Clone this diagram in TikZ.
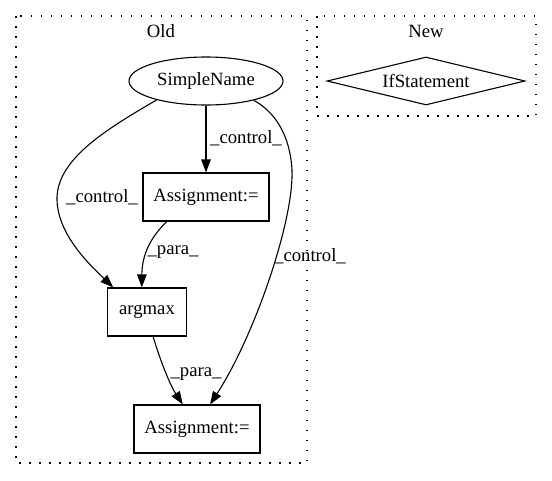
\documentclass[tikz,border=0pt]{standalone}
\usepackage{fontspec}
\setmainfont{Liberation Serif}
\usetikzlibrary{shapes.geometric,arrows.meta}
\begin{document}
\begin{tikzpicture}[x=1pt,y=-1pt,
  every node/.style={font=\fontsize{18.7pt}{22pt}\selectfont, inner sep=0pt},
  cluster/.style={draw, line width=1.2pt, dash pattern=on 1.5pt off 8.5pt},
  nodeline/.style={draw, line width=1.1pt},
  box/.style={nodeline, rectangle, minimum height=48pt},
  edge/.style={draw, line width=1.1pt, -{Triangle[length=13pt,width=9.5pt]}}
]
\useasboundingbox (0,0) rectangle (552,480);
% clusters
\draw[cluster] (16,16) rectangle (307,463);
\draw[cluster] (317,16) rectangle (536,116);
\node (old) at (161,31) {Old};
\node (new) at (426,31) {New};
% nodes
\node[nodeline, ellipse, minimum width=154pt, minimum height=48pt] (sn) at (206,81) {SimpleName};
\node[nodeline, diamond, aspect=4, minimum width=198pt, minimum height=48pt] (ifs) at (426,81) {IfStatement};
\node[box, minimum width=126pt] (asg1) at (206,197) {Assignment:=};
\node[box, minimum width=79pt] (argmax) at (147,312) {argmax};
\node[box, minimum width=126pt] (asg2) at (197,429) {Assignment:=};
% edges
\draw[edge] (sn) -- (asg1);
\draw[edge] (sn.201) .. controls (105,130) and (56,160) .. (57,200)
  .. controls (58,235) and (90,265) .. (argmax.144);
\draw[edge] (sn.338) .. controls (275,112) and (290,135) .. (292,170)
  .. controls (294,220) and (255,335) .. (asg2.62);
\draw[edge] (asg1.212) .. controls (150,238) and (142,255) .. (argmax.102);
\draw[edge] (argmax.284) .. controls (160,360) and (170,385) .. (asg2.120);
% edge labels
\node (l1) at (246,138) {\_control\_};
\node (l2) at (102,197) {\_control\_};
\node (l3) at (310,256) {\_control\_};
\node (l4) at (173,252) {\_para\_};
\node (l5) at (196,374) {\_para\_};
\end{tikzpicture}
\end{document}
